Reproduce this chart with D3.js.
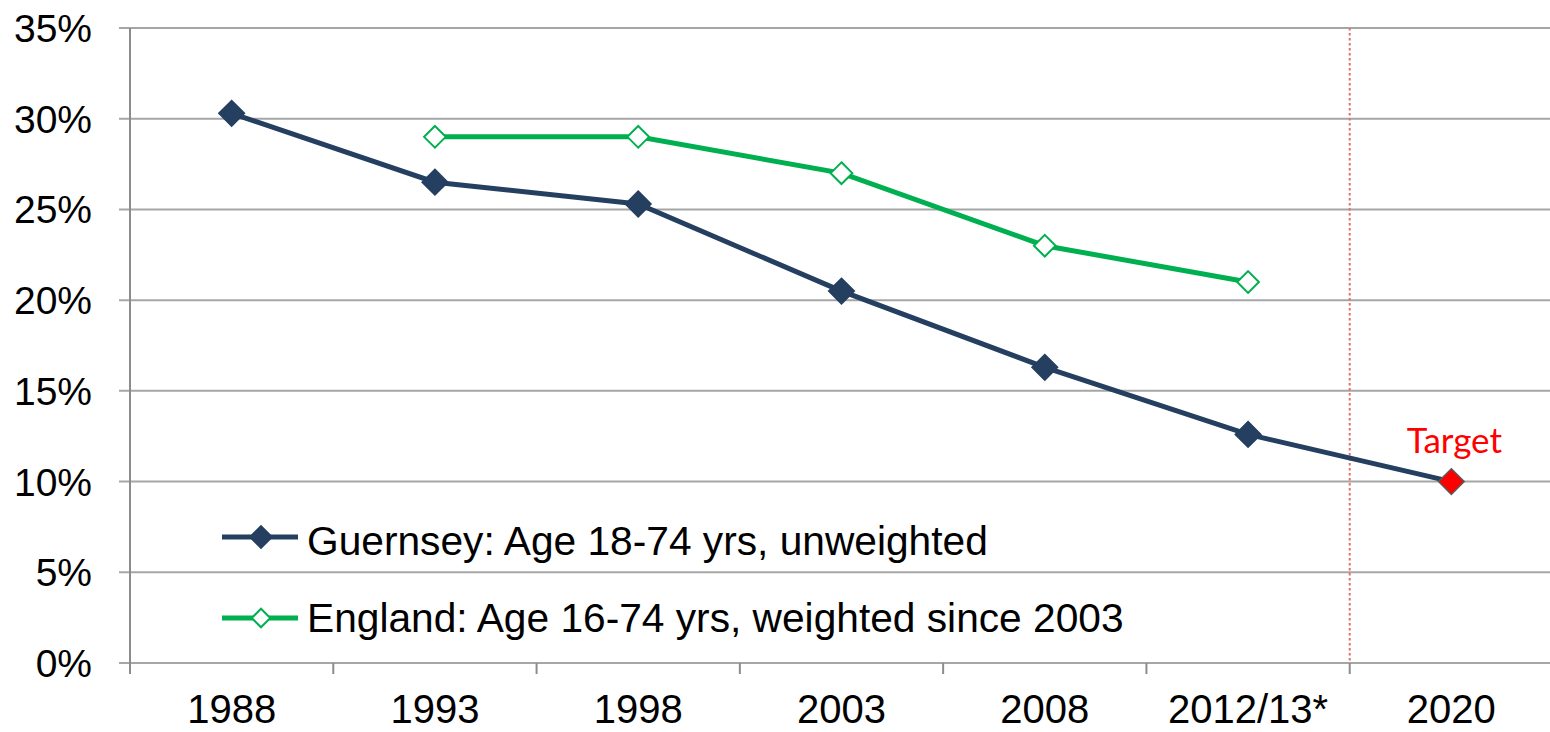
<!DOCTYPE html>
<html>
<head>
<meta charset="utf-8">
<script src="https://cdn.jsdelivr.net/npm/d3@7"></script>
<style>
  html, body { margin: 0; padding: 0; background: #fff; }
  svg text { font-family: "Liberation Sans", Arial, sans-serif; fill: #000; }
</style>
</head>
<body>
<div id="chart"></div>
<script>
// Категорії та значення (у відсотках)
const years = ["1988", "1993", "1998", "2003", "2008", "2012/13*", "2020"];
const guernsey = [30.3, 26.5, 25.3, 20.5, 16.3, 12.6, 10];
const england = [null, 29, 29, 27, 23, 21, null];
const yTicks = [0, 5, 10, 15, 20, 25, 30, 35];
const legendLabels = [
  "Guernsey: Age 18-74 yrs, unweighted",
  "England: Age 16-74 yrs, weighted since 2003"
];
const targetIndex = 6;
const targetLabel = "Target";

function draw() {
  const W = 1550, H = 732;
  const left = 130, right = 1553, top = 28, bottom = 663;

  const svg = d3.select("#chart").append("svg")
    .attr("width", W).attr("height", H);

  const x = d3.scaleBand().domain(years).range([left, right]).padding(0);
  const y = d3.scaleLinear().domain([0, 35]).range([bottom, top]);
  const cx = d => x(d) + x.bandwidth() / 2;

  // Сітка
  svg.append("g").selectAll("line").data(yTicks).enter().append("line")
    .attr("x1", left - 11).attr("x2", W)
    .attr("y1", d => y(d)).attr("y2", d => y(d))
    .attr("stroke", "#a6a6a6").attr("stroke-width", 2);

  // Вісь Y
  svg.append("line").attr("x1", left).attr("x2", left)
    .attr("y1", top).attr("y2", bottom)
    .attr("stroke", "#8c8c8c").attr("stroke-width", 2);
  svg.append("g").selectAll("text").data(yTicks).enter().append("text")
    .attr("x", 92).attr("y", d => y(d)).attr("dy", "0.36em")
    .attr("text-anchor", "end").style("font-size", "39px")
    .text(d => d + "%");

  // Вісь X (поділки на межах категорій)
  const bounds = years.map(d => x(d)).concat([right]);
  svg.append("g").selectAll("line").data(bounds).enter().append("line")
    .attr("x1", d => d).attr("x2", d => d)
    .attr("y1", bottom).attr("y2", bottom + 11)
    .attr("stroke", "#8c8c8c").attr("stroke-width", 2);
  svg.append("g").selectAll("text").data(years).enter().append("text")
    .attr("x", d => cx(d)).attr("y", 723)
    .attr("text-anchor", "middle").style("font-size", "40px")
    .text(d => d);

  // Пунктирна лінія перед ціллю
  svg.append("line")
    .attr("x1", x(years[targetIndex])).attr("x2", x(years[targetIndex]))
    .attr("y1", top).attr("y2", bottom)
    .attr("stroke", "#e07070").attr("stroke-width", 2)
    .attr("stroke-dasharray", "2.5,2.5");

  const navy = "#243f60", green = "#00b050";
  const diamond = d3.symbol().type(d3.symbolDiamond2);

  const gData = years.map((d, i) => ({x: d, y: guernsey[i]}));
  const eData = years.map((d, i) => ({x: d, y: england[i]})).filter(d => d.y !== null);
  const line = d3.line().x(d => cx(d.x)).y(d => y(d.y));

  svg.append("path").datum(gData).attr("d", line)
    .attr("fill", "none").attr("stroke", navy).attr("stroke-width", 5);
  svg.append("path").datum(eData).attr("d", line)
    .attr("fill", "none").attr("stroke", green).attr("stroke-width", 5);

  svg.append("g").selectAll("path").data(gData).enter().append("path")
    .attr("transform", d => `translate(${cx(d.x)},${y(d.y)})`)
    .attr("d", diamond.size(420)())
    .attr("fill", (d, i) => i === targetIndex ? "#ff0000" : navy)
    .attr("stroke", (d, i) => i === targetIndex ? "#5a5a5a" : navy)
    .attr("stroke-width", 1.5);

  svg.append("g").selectAll("path").data(eData).enter().append("path")
    .attr("transform", d => `translate(${cx(d.x)},${y(d.y)})`)
    .attr("d", diamond.size(300)())
    .attr("fill", "#fff").attr("stroke", green).attr("stroke-width", 2);

  // Підпис цілі
  svg.append("text")
    .attr("x", cx(years[targetIndex]) + 3).attr("y", 453)
    .attr("text-anchor", "middle")
    .style("font-family", "Lato, 'Open Sans', sans-serif")
    .style("font-size", "35px").style("fill", "#ff0000")
    .text(targetLabel);

  // Легенда
  const legend = [
    {label: legendLabels[0], color: navy, fill: navy, size: 300, ly: 537, ty: 555},
    {label: legendLabels[1], color: green, fill: "#fff", size: 220, ly: 618, ty: 632}
  ];
  const lg = svg.append("g").selectAll("g").data(legend).enter().append("g");
  lg.append("line").attr("x1", 222).attr("x2", 298)
    .attr("y1", d => d.ly).attr("y2", d => d.ly)
    .attr("stroke", d => d.color).attr("stroke-width", 5);
  lg.append("path").attr("transform", d => `translate(261,${d.ly})`)
    .attr("d", d => diamond.size(d.size)())
    .attr("fill", d => d.fill).attr("stroke", d => d.color).attr("stroke-width", 2);
  lg.append("text").attr("x", 307).attr("y", d => d.ty)
    .style("font-size", "40.7px")
    .text(d => d.label);
}

draw();
</script>
</body>
</html>
